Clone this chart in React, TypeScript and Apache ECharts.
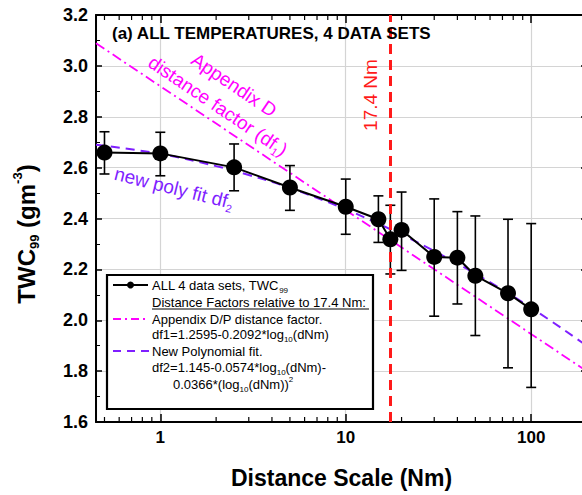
import React, { useEffect, useRef } from 'react';
import * as echarts from 'echarts';

// ---- data ----
const distanceNm = [0.5, 1, 2.5, 5, 10, 15, 17.4, 20, 30, 40, 50, 75, 100];
const twc99 = [2.659, 2.656, 2.601, 2.522, 2.446, 2.397, 2.318, 2.355, 2.249, 2.246, 2.175, 2.106, 2.043];
const errLow = [2.575, 2.568, 2.509, 2.432, 2.338, 2.306, 2.182, 2.196, 2.016, 2.064, 1.94, 1.813, 1.736];
const errHigh = [2.741, 2.739, 2.693, 2.608, 2.555, 2.489, 2.452, 2.504, 2.477, 2.427, 2.41, 2.397, 2.38];

const appendixDX = [0.45, 200];
const appendixDY = [3.089, 1.799];

const polyX = [0.45, 1, 2, 3, 5, 10, 20, 30, 50, 100, 200];
const polyY = [2.69, 2.654, 2.606, 2.571, 2.52, 2.436, 2.337, 2.272, 2.183, 2.049, 1.899];

const refDistance = 17.4;
const xMin = 0.45;
const xMax = 200;
const yMin = 1.6;
const yMax = 3.2;
const yInterval = 0.2;
const xMajorLabels = [1, 10, 100];
const xMinorTicks = [0.5, 0.6, 0.7, 0.8, 0.9, 2, 3, 4, 5, 6, 7, 8, 9, 20, 30, 40, 50, 60, 70, 80, 90];

const FONT = 'Liberation Sans, Arial, Helvetica, sans-serif';
const MAGENTA = '#ff00ff';
const PURPLE = '#7f1fff';
const RED = '#ff1a1a';

export default function App() {
  const ref = useRef<HTMLDivElement>(null);

  useEffect(() => {
    if (!ref.current) return;
    const chart = echarts.init(ref.current, undefined, { renderer: 'svg' });

    const xAxisBase = {
      type: 'log',
      logBase: 10,
      min: xMin,
      max: xMax,
      axisLine: { show: true, lineStyle: { color: '#000', width: 2 } },
      axisTick: { show: true, inside: true, length: 8, lineStyle: { color: '#000', width: 1.5 } },
      minorTick: { show: false },
    };
    const yAxisBase = {
      type: 'value',
      min: yMin,
      max: yMax,
      interval: yInterval,
      axisLine: { show: true, lineStyle: { color: '#000', width: 2 } },
      axisTick: { show: true, inside: true, length: 6, lineStyle: { color: '#000', width: 1.5 } },
      minorTick: { show: true, splitNumber: 2, length: 4, lineStyle: { color: '#000', width: 1 } },
    };

    const legendRows = [
      { y: 285, text: '{t|ALL 4 data sets, TWC}{s|99}' },
      { y: 302.5, text: '{t|Distance Factors relative to 17.4 Nm:}' },
      { y: 319, text: '{t|Appendix D/P distance factor.}' },
      { y: 334.5, text: '{t|df1=1.2595-0.2092*log}{s|10}{t|(dNm)}' },
      { y: 351, text: '{t|New Polynomial fit.}' },
      { y: 367.5, text: '{t|df2=1.145-0.0574*log}{s|10}{t|(dNm)-}' },
    ];
    const legendRich = {
      t: { fontSize: 13, fontFamily: FONT, fill: '#000', lineHeight: 18, verticalAlign: 'middle' },
      s: { fontSize: 8, fontFamily: FONT, fill: '#000', lineHeight: 8, verticalAlign: 'bottom' },
      p: { fontSize: 8, fontFamily: FONT, fill: '#000', lineHeight: 8, verticalAlign: 'top' },
    };

    const LZ = 60;
    const legendChildren: any[] = [
      {
        type: 'rect',
        z: LZ,
        shape: { x: 107, y: 275, width: 266, height: 134 },
        style: { fill: '#fff', stroke: '#000', lineWidth: 2.2 },
      },
      { type: 'line', z: LZ + 1, shape: { x1: 113, y1: 285, x2: 148, y2: 285 }, style: { stroke: '#000', lineWidth: 2 } },
      { type: 'circle', z: LZ + 1, shape: { cx: 130.5, cy: 285, r: 3.5 }, style: { fill: '#000' } },
      {
        type: 'line',
        z: LZ + 1,
        shape: { x1: 113, y1: 319, x2: 149, y2: 319 },
        style: { stroke: MAGENTA, lineWidth: 1.8, lineDash: [8, 4, 2, 4] },
      },
      {
        type: 'line',
        z: LZ + 1,
        shape: { x1: 113, y1: 351, x2: 149, y2: 351 },
        style: { stroke: PURPLE, lineWidth: 2, lineDash: [8, 6] },
      },
      { type: 'line', z: LZ + 1, shape: { x1: 152, y1: 309, x2: 369, y2: 309 }, style: { stroke: '#000', lineWidth: 1 } },
      ...legendRows.map((r) => ({
        type: 'text',
        z: LZ + 1,
        x: 152,
        y: r.y,
        style: { text: r.text, rich: legendRich, align: 'left', verticalAlign: 'middle' },
      })),
      {
        type: 'text',
        z: LZ + 1,
        x: 173,
        y: 384.5,
        style: {
          text: '{t|0.0366*(log}{s|10}{t|(dNm))}{p|2}',
          rich: legendRich,
          align: 'left',
          verticalAlign: 'middle',
        },
      },
    ];

    const option: any = {
      animation: false,
      backgroundColor: '#fff',
      grid: { left: 96, top: 15, width: 491, height: 407 },
      xAxis: [
        {
          ...xAxisBase,
          position: 'bottom',
          splitLine: { show: true, lineStyle: { color: '#d4d4d4', width: 1.2 } },
          axisLabel: {
            show: true,
            margin: 7,
            fontSize: 17,
            fontWeight: 'bold',
            fontFamily: FONT,
            color: '#000',
            formatter: (v: number) => {
              const hit = xMajorLabels.find((m) => Math.abs(m - v) / m < 1e-6);
              return hit !== undefined ? String(hit) : '';
            },
          },
          name: 'Distance Scale (Nm)',
          nameLocation: 'middle',
          nameGap: 44,
          nameTextStyle: { fontSize: 23, fontWeight: 'bold', fontFamily: FONT, color: '#000' },
        },
        {
          ...xAxisBase,
          position: 'top',
          splitLine: { show: false },
          axisLabel: { show: false },
        },
      ],
      yAxis: [
        {
          ...yAxisBase,
          position: 'left',
          splitLine: { show: true, lineStyle: { color: '#d4d4d4', width: 1.2 } },
          axisLabel: {
            show: true,
            margin: 8,
            fontSize: 18,
            fontWeight: 'bold',
            fontFamily: FONT,
            color: '#000',
            formatter: (v: number) => v.toFixed(1),
          },
        },
        {
          ...yAxisBase,
          position: 'right',
          splitLine: { show: false },
          axisLabel: { show: false },
        },
      ],
      series: [
        {
          type: 'line',
          name: 'Appendix D',
          data: appendixDX.map((x, i) => [x, appendixDY[i]]),
          showSymbol: false,
          symbol: 'none',
          lineStyle: { color: MAGENTA, width: 1.8, type: [10, 4, 2, 4] },
          z: 2,
        },
        {
          type: 'line',
          name: 'poly',
          data: polyX.map((x, i) => [x, polyY[i]]),
          smooth: 0.4,
          showSymbol: false,
          symbol: 'none',
          lineStyle: { color: PURPLE, width: 2, type: [9, 6] },
          z: 3,
        },
        {
          type: 'custom',
          name: 'errors',
          data: distanceNm.map((x, i) => [x, errLow[i], errHigh[i]]),
          encode: { x: 0, y: [1, 2] },
          z: 4,
          renderItem: (params: any, api: any) => {
            const x = api.value(0);
            const lo = api.coord([x, api.value(1)]);
            const hi = api.coord([x, api.value(2)]);
            const w = 5;
            const st = { stroke: '#000', lineWidth: 1.6 };
            return {
              type: 'group',
              children: [
                { type: 'line', shape: { x1: lo[0], y1: lo[1], x2: hi[0], y2: hi[1] }, style: st },
                { type: 'line', shape: { x1: lo[0] - w, y1: lo[1], x2: lo[0] + w, y2: lo[1] }, style: st },
                { type: 'line', shape: { x1: hi[0] - w, y1: hi[1], x2: hi[0] + w, y2: hi[1] }, style: st },
              ],
            };
          },
        },
        {
          type: 'line',
          name: 'TWC99',
          data: distanceNm.map((x, i) => [x, twc99[i]]),
          symbol: 'circle',
          symbolSize: 16,
          itemStyle: { color: '#000' },
          lineStyle: { color: '#000', width: 2 },
          z: 5,
          markLine: {
            silent: true,
            symbol: 'none',
            label: { show: false },
            lineStyle: { color: RED, width: 3, type: [10, 6] },
            data: [{ xAxis: refDistance }],
          },
        },
        {
          type: 'custom',
          name: 'minorTicks',
          data: xMinorTicks.map((v) => [v, yMin]),
          encode: { x: 0, y: 1 },
          clip: false,
          silent: true,
          z: 6,
          renderItem: (params: any, api: any) => {
            const v = api.value(0);
            const b = api.coord([v, yMin]);
            const t = api.coord([v, yMax]);
            const st = { stroke: '#000', lineWidth: 1.2 };
            return {
              type: 'group',
              children: [
                { type: 'line', shape: { x1: b[0], y1: b[1], x2: b[0], y2: b[1] - 5 }, style: st },
                { type: 'line', shape: { x1: t[0], y1: t[1], x2: t[0], y2: t[1] + 5 }, style: st },
              ],
            };
          },
        },
      ],
      graphic: [
        {
          type: 'text',
          x: 112,
          y: 33,
          z: 50,
          style: {
            text: '(a) ALL TEMPERATURES, 4 DATA SETS',
            font: `bold 17px ${FONT}`,
            fill: '#000',
            verticalAlign: 'middle',
            align: 'left',
          },
        },
        {
          type: 'text',
          x: 234,
          y: 85,
          rotation: (-34 * Math.PI) / 180,
          z: 50,
          style: { text: 'Appendix D', font: `19px ${FONT}`, fill: MAGENTA, align: 'center', verticalAlign: 'middle' },
        },
        {
          type: 'text',
          x: 218,
          y: 106,
          rotation: (-34 * Math.PI) / 180,
          z: 50,
          style: {
            text: '{m|distance factor (df}{s|1}{m|)}',
            align: 'center',
            verticalAlign: 'middle',
            rich: {
              m: { fontSize: 19, fontFamily: FONT, fill: MAGENTA, lineHeight: 24 },
              s: { fontSize: 11, fontFamily: FONT, fill: MAGENTA, lineHeight: 11, verticalAlign: 'bottom' },
            },
          },
        },
        {
          type: 'text',
          x: 174,
          y: 188,
          rotation: (-14 * Math.PI) / 180,
          z: 50,
          style: {
            text: '{m|new poly fit df}{s|2}',
            align: 'center',
            verticalAlign: 'middle',
            rich: {
              m: { fontSize: 19, fontFamily: FONT, fill: PURPLE, lineHeight: 24 },
              s: { fontSize: 11, fontFamily: FONT, fill: PURPLE, lineHeight: 11, verticalAlign: 'bottom' },
            },
          },
        },
        {
          type: 'text',
          x: 370,
          y: 95,
          rotation: Math.PI / 2,
          z: 50,
          style: { text: '17.4 Nm', font: `19px ${FONT}`, fill: RED, align: 'center', verticalAlign: 'middle' },
        },
        {
          type: 'text',
          x: 26,
          y: 234,
          rotation: Math.PI / 2,
          z: 50,
          style: {
            text: '{m|TWC}{s|99}{m| (gm}{p|-3}{m|)}',
            align: 'center',
            verticalAlign: 'middle',
            rich: {
              m: { fontSize: 24, fontWeight: 'bold', fontFamily: FONT, fill: '#000', lineHeight: 30 },
              s: { fontSize: 13, fontWeight: 'bold', fontFamily: FONT, fill: '#000', lineHeight: 13, verticalAlign: 'bottom' },
              p: { fontSize: 13, fontWeight: 'bold', fontFamily: FONT, fill: '#000', lineHeight: 13, verticalAlign: 'top' },
            },
          },
        },
        {
          type: 'group',
          z: LZ,
          children: legendChildren,
        },
      ],
    };

    chart.setOption(option);
    return () => {
      chart.dispose();
    };
  }, []);

  return (
    <div
      ref={ref}
      style={{ position: 'fixed', left: 0, top: 0, width: 600, height: 495, background: '#fff' }}
    />
  );
}
